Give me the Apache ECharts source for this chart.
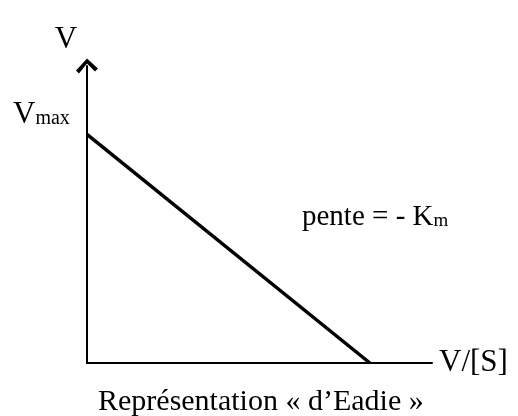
<!DOCTYPE html>
<html>
<head>
<meta charset="utf-8">
<script src="https://cdn.jsdelivr.net/npm/echarts@6/dist/echarts.min.js"></script>
<style>
  html, body { margin: 0; padding: 0; background: #fff; }
  #main { width: 518px; height: 416px; }
</style>
</head>
<body>
<div id="main"></div>
<script>
// droite d'Eadie : V = Vmax - Km * V/[S]
const lineX = [0, 82];   // V/[S]
const lineY = [77, 0];   // V
const axisMax = 100;

const font = "'Liberation Serif', serif";

var myChart = echarts.init(document.getElementById('main'));

var option = {
  animation: false,
  title: {
    text: 'Représentation « d’Eadie »',
    left: 93,
    top: 382,
    textStyle: { fontFamily: font, fontSize: 30, fontWeight: 'normal', color: '#000' }
  },
  grid: { left: 87, right: 86, top: 66, bottom: 53 },
  xAxis: {
    type: 'value',
    min: 0,
    max: axisMax,
    name: 'V/[S]',
    nameLocation: 'end',
    nameGap: 7,
    nameTextStyle: { fontFamily: font, fontSize: 31, color: '#000' },
    axisLine: { lineStyle: { color: '#000', width: 2 } },
    axisTick: { show: false },
    axisLabel: { show: false },
    splitLine: { show: false }
  },
  yAxis: {
    type: 'value',
    min: 0,
    max: axisMax,
    name: 'V',
    nameLocation: 'end',
    nameGap: 11,
    nameTextStyle: { fontFamily: font, fontSize: 31, color: '#000', padding: [0, 42, 0, 0] },
    axisLine: {
      lineStyle: { color: '#000', width: 2 },
      symbol: ['none', 'path://M11,0 L22,10 L19,13 L11,5 L3,15 L0,12 Z'],
      symbolSize: [22, 16]
    },
    axisTick: { show: false },
    axisLabel: { show: false },
    splitLine: { show: false }
  },
  graphic: [
    {
      type: 'text',
      left: 13,
      top: 99,
      style: {
        text: '{v|V}{m|max}',
        rich: {
          v: { fontFamily: font, fontSize: 31, fill: '#000', verticalAlign: 'bottom' },
          m: { fontFamily: font, fontSize: 20, fill: '#000', verticalAlign: 'bottom', padding: [0, 0, 1, 0] }
        }
      }
    },
    {
      type: 'text',
      left: 302,
      top: 203,
      style: {
        text: '{t|pente = - K}{m|m}',
        rich: {
          t: { fontFamily: font, fontSize: 29, fill: '#000', verticalAlign: 'bottom' },
          m: { fontFamily: font, fontSize: 19, fill: '#000', verticalAlign: 'bottom', padding: [0, 0, 1, 0] }
        }
      }
    }
  ],
  series: [
    {
      type: 'line',
      data: lineX.map((x, i) => [x, lineY[i]]),
      symbol: 'none',
      lineStyle: { color: '#000', width: 3.5 }
    }
  ]
};

myChart.setOption(option);
</script>
</body>
</html>
